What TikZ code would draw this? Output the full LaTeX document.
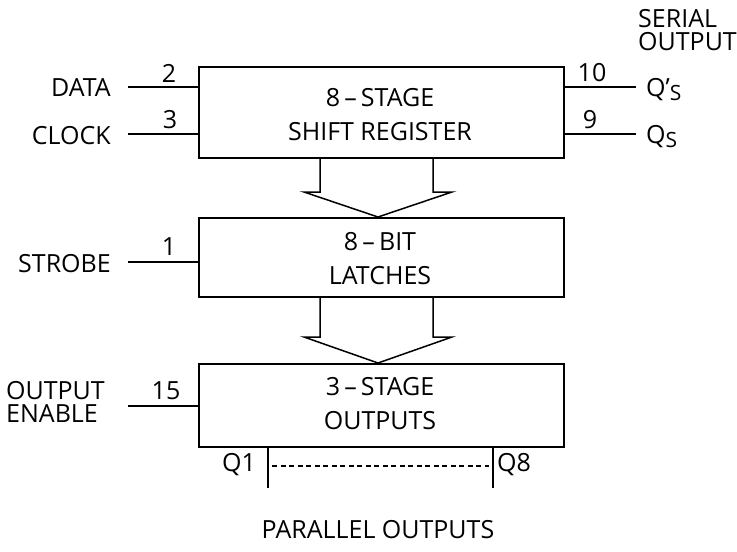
\documentclass[tikz,border=0pt]{standalone}
\usepackage{fontspec}
\setmainfont{Open Sans}
\begin{document}
\begin{tikzpicture}[x=1pt,y=-1pt,
  blk/.style={draw,line width=1.7pt,minimum width=365pt,anchor=north west,inner sep=0pt},
  wire/.style={line width=1.2pt},
  lbl/.style={font=\fontsize{25}{23}\selectfont,inner sep=0pt},
  pin/.style={font=\fontsize{25}{23}\selectfont,inner sep=0pt},
  big/.style={line width=1.5pt,line join=miter}]
\useasboundingbox (0,0) rectangle (737,552);
% boxes
\node[blk,minimum height=91pt] (sr) at (198,66) {};
\node[blk,minimum height=79pt] (la) at (198,217) {};
\node[blk,minimum height=83pt] (ou) at (198,363) {};
\node[lbl] (t1) at (380,98) {8\,–\,STAGE};
\node[lbl] (t2) at (380,132) {SHIFT REGISTER};
\node[lbl] (t3) at (380,242) {8\,–\,BIT};
\node[lbl] (t4) at (380,276) {LATCHES};
\node[lbl] (t5) at (380,387) {3\,–\,STAGE};
\node[lbl] (t6) at (380,421) {OUTPUTS};
% wide arrows
\draw[big] (320,157) -- (320,192) -- (304,192) -- (378,217) -- (452,192) -- (433,192) -- (433,157);
\draw[big] (320,296) -- (320,337) -- (304,337) -- (378,363) -- (452,337) -- (433,337) -- (433,296);
% inputs
\coordinate (dA) at (128,87);
\coordinate (cA) at (128,134);
\coordinate (sA) at (128,262);
\coordinate (oA) at (128,406);
\draw[wire] (dA) -- (dA -| sr.west);
\draw[wire] (cA) -- (cA -| sr.west);
\draw[wire] (sA) -- (sA -| la.west);
\draw[wire] (oA) -- (oA -| ou.west);
\node[lbl,anchor=east] (data) at (111,88) {DATA};
\node[lbl,anchor=east] (clock) at (111,136) {CLOCK};
\node[lbl,anchor=east] (strobe) at (111,264) {STROBE};
\node[lbl,align=left,anchor=west] (oe) at (6,402) {OUTPUT\\ENABLE};
\node[pin] (p2) at (169,73) {2};
\node[pin] (p3) at (170,120) {3};
\node[pin] (p1) at (169,247) {1};
\node[pin] (p15) at (166,391) {15};
% outputs
\coordinate (qpA) at (636,87);
\coordinate (qA) at (636,134);
\draw[wire] (qpA -| sr.east) -- (qpA);
\draw[wire] (qA -| sr.east) -- (qA);
\node[pin] (p10) at (592,73) {10};
\node[pin] (p9) at (590,120) {9};
\node[lbl,anchor=west] (qp) at (646,90) {Q\textquoteright\raisebox{-0.3ex}{\fontsize{21}{16}\selectfont S}};
\node[lbl,anchor=west] (qs) at (646,137) {Q\raisebox{-0.3ex}{\fontsize{21}{16}\selectfont S}};
\node[lbl,align=left,anchor=west] (ser) at (638,30) {SERIAL\\OUTPUT};
% parallel outputs
\coordinate (q1b) at (268,488);
\coordinate (q8b) at (493,488);
\draw[wire] (q1b |- ou.south) -- (q1b);
\draw[wire] (q8b |- ou.south) -- (q8b);
\draw[wire,dashed,dash pattern=on 5pt off 3.5pt] (272,466) -- (489,466);
\node[lbl,anchor=east] (q1) at (256,465) {Q1};
\node[lbl,anchor=west] (q8) at (497,465) {Q8};
\node[lbl] (par) at (378,530) {PARALLEL OUTPUTS};
\end{tikzpicture}
\end{document}
